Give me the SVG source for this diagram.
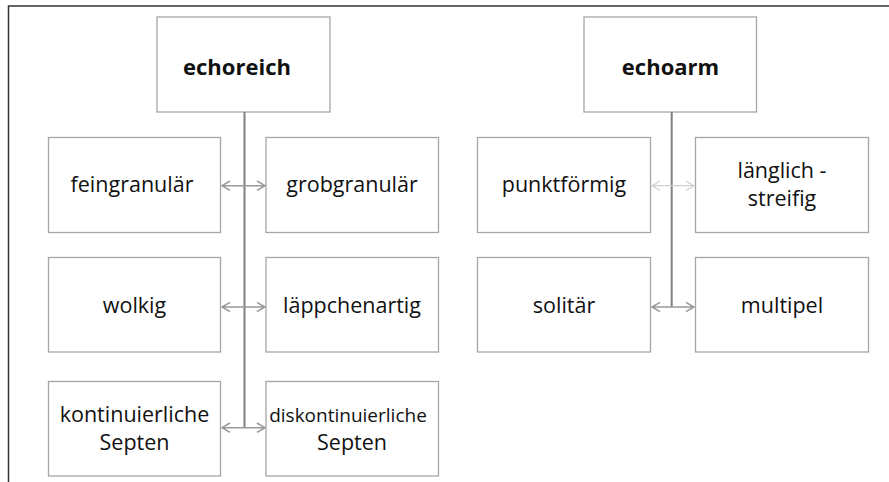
<svg xmlns="http://www.w3.org/2000/svg" width="889" height="482" viewBox="0 0 889 482">
<defs>
<style>
.box{fill:#fff;stroke:#a6a6a6;stroke-width:1.3}
.t{font-family:"Open Sans","Liberation Sans",sans-serif;font-size:21.5px;fill:#111;text-anchor:middle}
.b{font-weight:bold;font-size:22px}
.s{font-size:19px}
.trunk{stroke:#808080;stroke-width:2;fill:none}
.arr{stroke:#999;stroke-width:1.5;fill:none}
.arrl{stroke:#d0d0d0;stroke-width:1.2;fill:none}
.frame{stroke:#333;stroke-width:1.5;fill:none}
</style>
</defs>
<rect width="889" height="482" fill="#fff"/>
<path class="frame" d="M8.5,482 V6 H889"/>

<g id="echoreich"><rect class="box" x="157" y="17" width="173" height="95"/><text class="t b" x="237" y="75">echoreich</text></g>
<g id="feingranular"><rect class="box" x="48.5" y="137.5" width="172" height="95"/><text class="t" x="132" y="192">feingranulär</text></g>
<g id="grobgranular"><rect class="box" x="266" y="137.5" width="172.5" height="95"/><text class="t" x="352" y="192">grobgranulär</text></g>
<g id="wolkig"><rect class="box" x="48.5" y="257.5" width="172" height="94.5"/><text class="t" x="134.5" y="313">wolkig</text></g>
<g id="lappchenartig"><rect class="box" x="266" y="257.5" width="172.5" height="94.5"/><text class="t" x="352" y="313">läppchenartig</text></g>
<g id="kontinuierliche"><rect class="box" x="48.5" y="381.5" width="172" height="94.5"/><text class="t" x="134.5" y="422">kontinuierliche</text><text class="t" x="134.5" y="450">Septen</text></g>
<g id="diskontinuierliche"><rect class="box" x="266" y="381.5" width="172.5" height="94.5"/><text class="t s" x="348" y="422">diskontinuierliche</text><text class="t" x="352" y="450">Septen</text></g>

<g id="echoarm"><rect class="box" x="584" y="17" width="172.5" height="95"/><text class="t b" x="670.5" y="75">echoarm</text></g>
<g id="punktformig"><rect class="box" x="477.5" y="137.5" width="173" height="95"/><text class="t" x="564" y="192">punktförmig</text></g>
<g id="langlich"><rect class="box" x="695.5" y="137.5" width="173" height="95"/><text class="t" x="782" y="178">länglich -</text><text class="t" x="782" y="206">streifig</text></g>
<g id="solitar"><rect class="box" x="477.5" y="257.5" width="173" height="94.5"/><text class="t" x="564" y="313">solitär</text></g>
<g id="multipel"><rect class="box" x="695.5" y="257.5" width="173" height="94.5"/><text class="t" x="782" y="313">multipel</text></g>

<g id="connectors">
<path class="trunk" d="M244.5,112 V428"/>
<path class="arr" d="M222,185.7 H265 M230,181 L222,185.7 L230,190.4 M257,181 L265,185.7 L257,190.4"/>
<path class="arr" d="M222,307 H265 M230,302.3 L222,307 L230,311.7 M257,302.3 L265,307 L257,311.7"/>
<path class="arr" d="M222,427.7 H265 M230,423 L222,427.7 L230,432.4 M257,423 L265,427.7 L257,432.4"/>
<path class="trunk" d="M671.7,112 V307"/>
<path class="arrl" d="M652,185.7 H694 M660,181 L652,185.7 L660,190.4 M686,181 L694,185.7 L686,190.4"/>
<path class="arr" d="M652,307 H694 M660,302.3 L652,307 L660,311.7 M686,302.3 L694,307 L686,311.7"/>
</g>
</svg>
